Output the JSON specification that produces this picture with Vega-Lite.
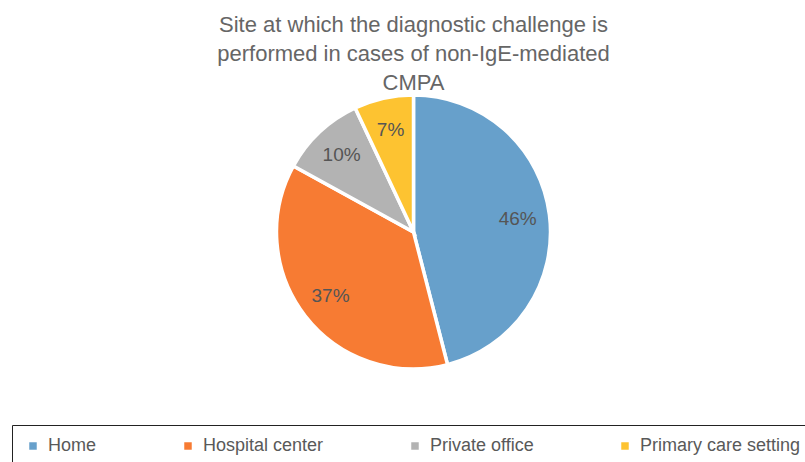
{
  "$schema": "https://vega.github.io/schema/vega-lite/v6.json",
  "width": 783,
  "height": 272,
  "autosize": {"type": "none"},
  "padding": {"left": 22, "top": 96, "right": 0, "bottom": 94},
  "background": "white",
  "title": {
    "text": ["Site at which the diagnostic challenge is", "performed in cases of non-IgE-mediated", "CMPA"],
    "font": "Liberation Sans",
    "fontSize": 22,
    "fontWeight": "normal",
    "color": "#666666",
    "lineHeight": 29,
    "anchor": "middle",
    "offset": -7
  },
  "config": {"view": {"stroke": null}},
  "data": {
    "values": [
      {"site": "Home", "share": 0.46},
      {"site": "Hospital center", "share": 0.37},
      {"site": "Private office", "share": 0.10},
      {"site": "Primary care setting", "share": 0.07}
    ]
  },
  "encoding": {
    "theta": {"field": "share", "type": "quantitative", "stack": true},
    "order": {"field": "share", "type": "quantitative", "sort": "descending"}
  },
  "layer": [
    {
      "mark": {"type": "arc", "outerRadius": 137, "stroke": "white", "strokeWidth": 3.5},
      "encoding": {
        "color": {
          "field": "site",
          "type": "nominal",
          "scale": {
            "domain": ["Home", "Hospital center", "Private office", "Primary care setting"],
            "range": ["#67A0CB", "#F77B33", "#B3B3B3", "#FDC331"]
          },
          "legend": {
            "title": null,
            "orient": "none",
            "legendX": -10,
            "legendY": 329,
            "direction": "horizontal",
            "columns": 4,
            "columnPadding": 82,
            "symbolType": "square",
            "symbolSize": 56,
            "symbolStrokeWidth": 0,
            "labelFont": "Liberation Sans",
            "labelFontSize": 18,
            "labelColor": "#595959",
            "labelOffset": 6,
            "labelLimit": 300,
            "padding": 12,
            "strokeColor": "#222222"
          }
        }
      }
    },
    {
      "mark": {"type": "text", "radius": 105, "font": "Liberation Sans", "fontSize": 19, "fill": "#555555"},
      "encoding": {
        "text": {"field": "share", "type": "quantitative", "format": ".0%"}
      }
    }
  ]
}
